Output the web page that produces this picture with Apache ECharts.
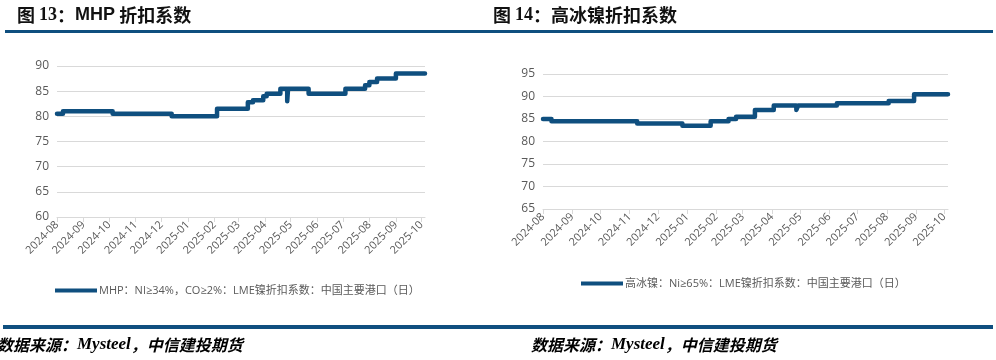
<!DOCTYPE html>
<html>
<head>
<meta charset="utf-8">
<script src="https://cdn.jsdelivr.net/npm/echarts@6/dist/echarts.min.js"></script>
<style>
html,body{margin:0;padding:0;background:#fff;}
#chart{width:996px;height:360px;}
</style>
</head>
<body>
<div id="chart"></div>
<script>
// ---- Data (change points of daily step series) ----
var mhpDates = ['2024-08-01','2024-08-08','2024-10-05','2024-12-13','2025-02-04','2025-03-12','2025-03-18','2025-03-30','2025-04-03','2025-04-19','2025-04-27','2025-04-28','2025-05-22','2025-07-04','2025-07-27','2025-08-01','2025-08-10','2025-09-01','2025-10-05'];
var mhpValues = [80.5, 81, 80.5, 80, 81.5, 82.8, 83.2, 84, 84.5, 85.5, 83, 85.5, 84.5, 85.5, 86.2, 86.8, 87.5, 88.5, 88.5];

var matteDates = ['2024-08-01','2024-08-10','2024-11-09','2024-12-27','2025-01-26','2025-02-14','2025-02-22','2025-03-14','2025-04-03','2025-04-27','2025-04-29','2025-06-09','2025-08-03','2025-08-30','2025-10-05'];
var matteValues = [85, 84.5, 84, 83.5, 84.5, 85, 85.5, 87, 88, 87, 88, 88.5, 89, 90.5, 90.5];

var leftYTicks = {min: 60, max: 90, interval: 5};
var rightYTicks = {min: 65, max: 95, interval: 5};
var xRange = {min: '2024-08-01', max: '2025-10-05'};

var mhpName = 'MHP：NI≥34%，CO≥2%：LME镍折扣系数：中国主要港口（日）';
var matteName = '高冰镍：Ni≥65%：LME镍折扣系数：中国主要港口（日）';

// ---- Styles ----
var BLUE = '#0f4f7f';
var GRID = '#d9d9d9';
var LABEL = '#595959';
var FONT = '"Open Sans","Noto Sans CJK SC",sans-serif';

function pairs(d, v){ return d.map(function(x,i){ return [x, v[i]]; }); }
function fmtMonth(val){
  var d = new Date(val);
  if (d.getDate() !== 1) return '';
  var m = d.getMonth()+1;
  return d.getFullYear() + '-' + (m<10?'0'+m:m);
}

function xAxisOf(gi){
  return {
    type: 'time', gridIndex: gi, min: xRange.min, max: xRange.max,
    minInterval: 28*864e5, maxInterval: 31*864e5,
    axisLine: {show: true, lineStyle: {color: GRID, width: 1}},
    axisTick: {show: true, length: 5, lineStyle: {color: GRID}},
    splitLine: {show: false},
    axisLabel: {rotate: 45, color: LABEL, fontSize: 11, fontFamily: FONT, margin: 6,
      formatter: fmtMonth, hideOverlap: false, showMaxLabel: false}
  };
}
function yAxisOf(gi, t){
  return {
    type: 'value', gridIndex: gi, min: t.min, max: t.max, interval: t.interval,
    axisLine: {show: false}, axisTick: {show: false},
    splitLine: {lineStyle: {color: GRID, width: 1}},
    axisLabel: {color: LABEL, fontSize: 12, fontFamily: FONT, margin: 8}
  };
}
function lineSeries(name, gi, d, v){
  return {
    name: name, type: 'line', xAxisIndex: gi, yAxisIndex: gi,
    data: pairs(d, v), step: 'end', symbol: 'none',
    lineStyle: {color: BLUE, width: 4.5, cap: 'round', join: 'round'},
    itemStyle: {color: BLUE}, animation: false
  };
}

var chart = echarts.init(document.getElementById('chart'), null, {renderer: 'canvas'});
chart.setOption({
  animation: false,
  grid: [
    {left: 57, top: 66, width: 368, height: 151},
    {left: 543, top: 74, width: 405, height: 135}
  ],
  xAxis: [xAxisOf(0), xAxisOf(1)],
  yAxis: [yAxisOf(0, leftYTicks), yAxisOf(1, rightYTicks)],
  legend: [
    {data: [mhpName], left: 50, top: 280, icon: 'rect', itemWidth: 42, itemHeight: 4, itemGap: 10,
     textStyle: {color: LABEL, fontSize: 11, fontFamily: FONT, padding: [0,0,0,-3]}},
    {data: [matteName], left: 576, top: 273, icon: 'rect', itemWidth: 42, itemHeight: 4, itemGap: 10,
     textStyle: {color: LABEL, fontSize: 11, fontFamily: FONT, padding: [0,0,0,-3]}}
  ],
  series: [
    lineSeries(mhpName, 0, mhpDates, mhpValues),
    lineSeries(matteName, 1, matteDates, matteValues)
  ],
  graphic: [
    {type: 'rect', left: 5, top: 30, shape: {width: 988, height: 3}, style: {fill: BLUE}, silent: true},
    {type: 'rect', left: 3, top: 325, shape: {width: 990, height: 4}, style: {fill: BLUE}, silent: true},
    {type: 'text', x: 17, y: 15, silent: true, style: {
      text: '{a|图 }{b|13}{a|：}{c|MHP}{a| 折扣系数}', verticalAlign: 'middle', align: 'left',
      rich: {
        a: {fontFamily: '"Noto Sans CJK SC",sans-serif', fontWeight: 'bold', fontSize: 18, fill: '#111'},
        b: {fontFamily: '"Liberation Serif",serif', fontWeight: 'bold', fontSize: 18, fill: '#111'},
        c: {fontFamily: '"Liberation Sans",Arial,sans-serif', fontWeight: 'bold', fontSize: 18, fill: '#111'}
      }}},
    {type: 'text', x: 493, y: 15, silent: true, style: {
      text: '{a|图 }{b|14}{a|：高冰镍折扣系数}', verticalAlign: 'middle', align: 'left',
      rich: {
        a: {fontFamily: '"Noto Sans CJK SC",sans-serif', fontWeight: 'bold', fontSize: 18, fill: '#111'},
        b: {fontFamily: '"Liberation Serif",serif', fontWeight: 'bold', fontSize: 18, fill: '#111'}
      }}},
    {type: 'text', x: -3, y: 345, silent: true, style: {
      text: '{a|数据来源：}{b|Mysteel}{a|，中信建投期货}', verticalAlign: 'middle', align: 'left',
      rich: {
        a: {fontFamily: '"Noto Sans CJK SC",sans-serif', fontWeight: 'bold', fontStyle: 'italic', fontSize: 16, fill: '#000'},
        b: {fontFamily: '"Liberation Serif",serif', fontWeight: 'bold', fontStyle: 'italic', fontSize: 17, fill: '#000'}
      }}},
    {type: 'text', x: 531, y: 345, silent: true, style: {
      text: '{a|数据来源：}{b|Mysteel}{a|，中信建投期货}', verticalAlign: 'middle', align: 'left',
      rich: {
        a: {fontFamily: '"Noto Sans CJK SC",sans-serif', fontWeight: 'bold', fontStyle: 'italic', fontSize: 16, fill: '#000'},
        b: {fontFamily: '"Liberation Serif",serif', fontWeight: 'bold', fontStyle: 'italic', fontSize: 17, fill: '#000'}
      }}}
  ]
});
</script>
</body>
</html>
